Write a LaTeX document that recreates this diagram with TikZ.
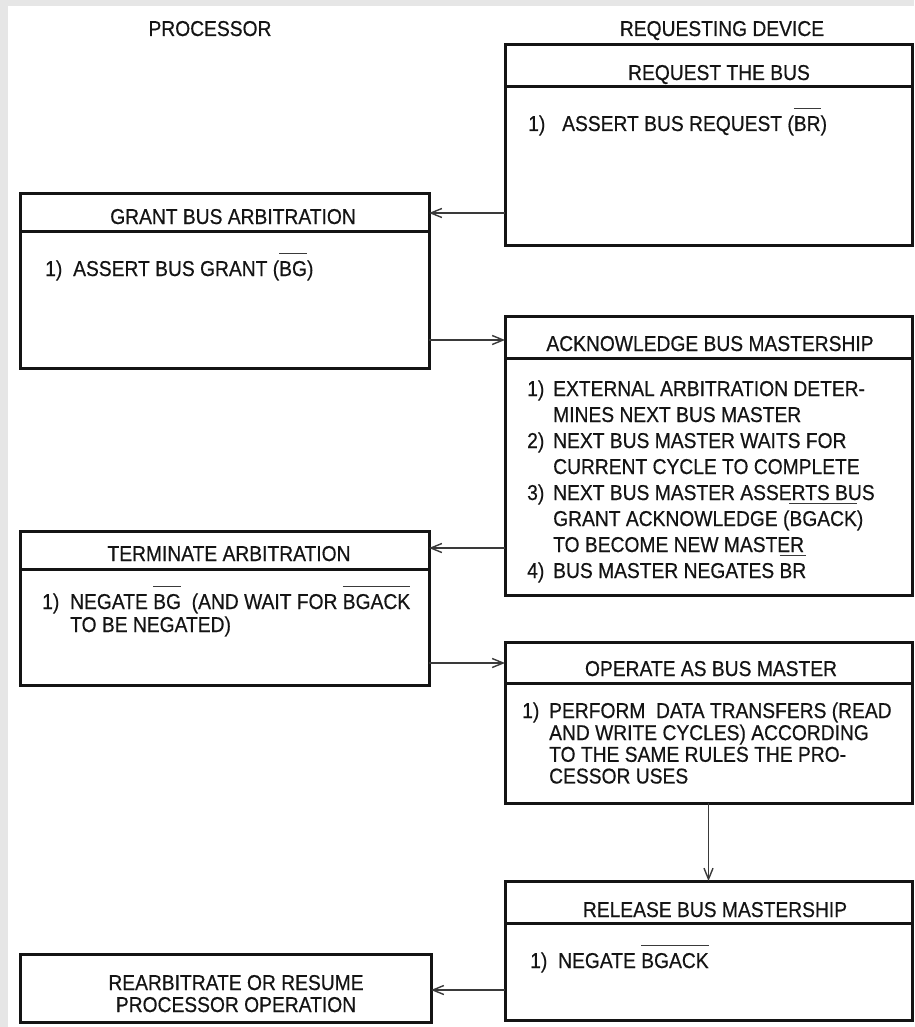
\documentclass[tikz,border=0pt]{standalone}
\usepackage{fontspec}
\setmainfont{Liberation Sans}[FakeStretch=0.895,FakeBold=0.5]
\usetikzlibrary{arrows.meta}
\definecolor{pagegray}{HTML}{E6E6E6}
\definecolor{ink}{HTML}{141414}
\definecolor{wire}{HTML}{3A3A3A}
% active-low signal name: bar drawn a little above the capitals
\newcommand\negsig[1]{\setbox0=\hbox{#1}\rlap{\raisebox{1.03em}[0pt][0pt]{\color{wire}\rule{\wd0}{1.3pt}}}\box0}
\tikzset{
  box/.style={draw=ink, line width=3pt, fill=white, inner sep=0pt, outer sep=0pt, anchor=north west},
  sepline/.style={draw=ink, line width=3pt},
  lbl/.style={inner sep=0pt, anchor=base, text=ink, font=\fontsize{21.5pt}{24pt}\selectfont},
  item/.style={inner sep=0pt, anchor=base west, text=ink, font=\fontsize{21.5pt}{#1}\selectfont},
  item/.default=24pt,
  conn/.style={draw=wire, line width=1.4pt, -{Straight Barb[length=11pt,width=9pt,line width=1.4pt]}}
}
\begin{document}
\begin{tikzpicture}[x=1pt,y=-1pt]
\path[use as bounding box, fill=pagegray] (0,0) rectangle (914,1027);
\fill[white] (8,6) rectangle (914,1027);

% column titles
\node[lbl] (tproc) at (210,36) {PROCESSOR};
\node[lbl] (tdev) at (722,36) {REQUESTING DEVICE};

% boxes
\node[box, minimum width=407pt, minimum height=200pt] (req) at (505,45) {};
\node[box, minimum width=409pt, minimum height=175pt] (grant) at (20,193) {};
\node[box, minimum width=407pt, minimum height=279pt] (ack) at (505,316) {};
\node[box, minimum width=409pt, minimum height=154pt] (term) at (20,531) {};
\node[box, minimum width=407pt, minimum height=161pt] (oper) at (505,642) {};
\node[box, minimum width=407pt, minimum height=139pt] (rel) at (505,881) {};
\node[box, minimum width=411pt, minimum height=68pt] (rearb) at (20,954) {};

% header separators
\draw[sepline] (req.west |- 0,87) -- (req.east |- 0,87);
\draw[sepline] (grant.west |- 0,231) -- (grant.east |- 0,231);
\draw[sepline] (ack.west |- 0,358) -- (ack.east |- 0,358);
\draw[sepline] (term.west |- 0,569) -- (term.east |- 0,569);
\draw[sepline] (oper.west |- 0,683) -- (oper.east |- 0,683);
\draw[sepline] (rel.west |- 0,923) -- (rel.east |- 0,923);

% headers
\node[lbl] (reqH) at (719,80) {REQUEST THE BUS};
\node[lbl] (grantH) at (233,224) {GRANT BUS ARBITRATION};
\node[lbl] (ackH) at (710,351) {ACKNOWLEDGE BUS MASTERSHIP};
\node[lbl] (termH) at (229,561) {TERMINATE ARBITRATION};
\node[lbl] (operH) at (711,676) {OPERATE AS BUS MASTER};
\node[lbl] (relH) at (715,917) {RELEASE BUS MASTERSHIP};

% bodies
\node[item] (reqB) at (528,131) {\begin{tabular}[t]{@{}p{34pt}@{}l@{}}
1) & ASSERT BUS REQUEST (\negsig{BR})\end{tabular}};
\node[item] (grantB) at (45,276) {\begin{tabular}[t]{@{}p{28pt}@{}l@{}}
1) & ASSERT BUS GRANT (\negsig{BG})\end{tabular}};
\node[item=26pt] (ackB) at (527,396) {\begin{tabular}[t]{@{}p{26pt}@{}l@{}}
1) & EXTERNAL ARBITRATION DETER-\\
   & MINES NEXT BUS MASTER\\
2) & NEXT BUS MASTER WAITS FOR\\
   & CURRENT CYCLE TO COMPLETE\\
3) & NEXT BUS MASTER ASSERTS BUS\\
   & GRANT ACKNOWLEDGE (\negsig{BGACK})\\
   & TO BECOME NEW MASTER\\
4) & BUS MASTER NEGATES \negsig{BR}\end{tabular}};
\node[item=23pt] (termB) at (42,609) {\begin{tabular}[t]{@{}p{28pt}@{}l@{}}
1) & NEGATE \negsig{BG}\ \ (AND WAIT FOR \negsig{BGACK}\\
   & TO BE NEGATED)\end{tabular}};
\node[item=21.7pt] (operB) at (522,718) {\begin{tabular}[t]{@{}p{27pt}@{}l@{}}
1) & PERFORM\ \ DATA TRANSFERS (READ\\
   & AND WRITE CYCLES) ACCORDING\\
   & TO THE SAME RULES THE PRO-\\
   & CESSOR USES\end{tabular}};
\node[item] (relB) at (530,968) {\begin{tabular}[t]{@{}p{28pt}@{}l@{}}
1) & NEGATE \negsig{BGACK}\end{tabular}};
\node[item=22pt, anchor=base] (rearbT) at (236,990) {\begin{tabular}[t]{@{}c@{}}
REARBITRATE OR RESUME\\ PROCESSOR OPERATION\end{tabular}};

% hand-over sequence
\draw[conn] (req.west |- 0,213) -- (grant.east |- 0,213);
\draw[conn] (grant.east |- 0,340) -- (ack.west |- 0,340);
\draw[conn] (ack.west |- 0,548) -- (term.east |- 0,548);
\draw[conn] (term.east |- 0,663) -- (oper.west |- 0,663);
\draw[conn] (oper.south) -- (rel.north -| oper.south);
\draw[conn] (rel.west |- 0,990) -- (rearb.east |- 0,990);
\end{tikzpicture}
\end{document}
